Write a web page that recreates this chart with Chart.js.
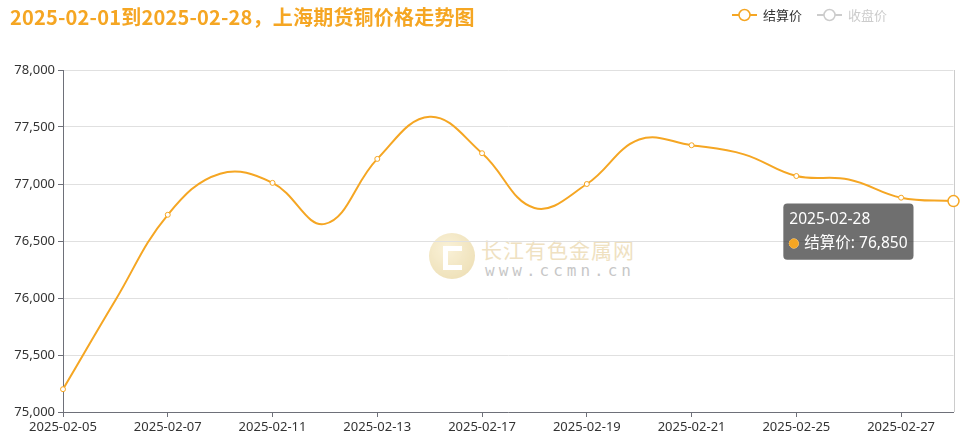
<!DOCTYPE html>
<html>
<head>
<meta charset="utf-8">
<script src="https://cdn.jsdelivr.net/npm/chart.js@4/dist/chart.umd.min.js"></script>
<style>
  body { margin: 0; background: #fff; font-family: "Noto Sans CJK SC", "Noto Sans", sans-serif; }
  #wrap { position: relative; width: 960px; height: 440px; }
  #title { position: absolute; left: 10px; top: 2px; font-size: 20px; font-weight: bold; color: #f5a623; white-space: nowrap; letter-spacing: 0.2px; }
  #legend { position: absolute; left: 732px; top: 5px; font-size: 13px; display: flex; align-items: center; }
  #legend span.item { display: flex; align-items: center; margin-right: 15px; }
  #legend svg { margin-right: 6px; }
  #mark { position: absolute; left: 429px; top: 233px; width: 220px; height: 50px; opacity: 0.55; }
  #logo { position: absolute; left: 0; top: 0; width: 46px; height: 46px; border-radius: 50%;
          background: radial-gradient(circle at 40% 35%, #f6e7b8, #dcc070); }
  #logo div { position: absolute; left: 14px; top: 13px; width: 14px; height: 14px; border: 5px solid #fff; border-right: none; }
  #mark .cn { position: absolute; left: 52px; top: 1px; font-size: 21px; color: #e3c98f; letter-spacing: 1px; white-space: nowrap; }
  #mark .url { position: absolute; left: 56px; top: 28px; font-size: 16px; color: #9a9a9a; letter-spacing: 4px; font-family: "DejaVu Sans Mono", monospace; white-space: nowrap; }
  canvas { position: absolute; left: 0; top: 0; }
</style>
</head>
<body>
<div id="wrap">
  <div id="mark"><div id="logo"><div></div></div><span class="cn">长江有色金属网</span><span class="url">www.ccmn.cn</span></div>
  <canvas id="chart" width="960" height="440"></canvas>
  <div id="title">2025-02-01到2025-02-28，上海期货铜价格走势图</div>
  <div id="legend"></div>
</div>
<script>
// 日期 / 结算价
const dates = ['2025-02-05','2025-02-06','2025-02-07','2025-02-10','2025-02-11','2025-02-12',
  '2025-02-13','2025-02-14','2025-02-17','2025-02-18','2025-02-19','2025-02-20',
  '2025-02-21','2025-02-24','2025-02-25','2025-02-26','2025-02-27','2025-02-28'];
const settlePrice = [75200, 75980, 76730, 77090, 77010, 76650,
  77220, 77590, 77270, 76790, 77000, 77390,
  77340, 77260, 77070, 77040, 76880, 76850];
const seriesNames = ['结算价', '收盘价'];
const yMin = 75000, yMax = 78000, yStep = 500;

const orange = '#f5a623';
const tickFont = { family: '"Noto Sans", "Noto Sans CJK SC", sans-serif', size: 13 };

// legend (收盘价 is switched off, like in the original)
const legendColors = [orange, '#ccc'];
const textColors = ['#333', '#ccc'];
document.getElementById('legend').innerHTML = seriesNames.map(function(n, i){
  return '<span class="item"><svg width="25" height="14"><line x1="0" y1="7" x2="25" y2="7" stroke="' + legendColors[i] +
    '" stroke-width="2"/><circle cx="12.5" cy="7" r="5.5" fill="#fff" stroke="' + legendColors[i] +
    '" stroke-width="1.5"/></svg><span style="color:' + textColors[i] + '">' + n + '</span></span>';
}).join('');

Chart.Tooltip.positioners.leftOfPoint = function(elements) {
  if (!elements.length) return false;
  const el = elements[0].element;
  return { x: el.x - 44, y: el.y + 2.5, xAlign: 'right', yAlign: 'top' };
};

const axisPointer = {
  id: 'axisPointer',
  beforeDatasetsDraw(chart) {
    const act = chart.getActiveElements();
    if (!act.length) return;
    const x = act[0].element.x, a = chart.chartArea, ctx = chart.ctx;
    ctx.save();
    ctx.strokeStyle = '#ccc';
    ctx.lineWidth = 1;
    ctx.beginPath();
    ctx.moveTo(Math.round(x) + 0.5, a.top);
    ctx.lineTo(Math.round(x) + 0.5, a.bottom);
    ctx.stroke();
    ctx.restore();
  }
};

const ctx = document.getElementById('chart').getContext('2d');
const chart = new Chart(ctx, {
  type: 'line',
  data: {
    labels: dates,
    datasets: [{
      label: seriesNames[0],
      data: settlePrice,
      borderColor: orange,
      backgroundColor: '#fff',
      borderWidth: 2,
      tension: 0.4,
      pointRadius: function(c){ return c.dataIndex % 2 === 0 ? 2.5 : 0; },
      pointBorderWidth: 1,
      pointBackgroundColor: '#fff',
      pointBorderColor: orange,
      pointHoverRadius: 5.5,
      pointHoverBorderWidth: 1.5,
      pointHoverBackgroundColor: '#fff',
      pointHoverBorderColor: orange
    }]
  },
  options: {
    responsive: false,
    animation: false,
    events: [],
    layout: { padding: { left: 0, top: 70, right: 5, bottom: 0 } },
    plugins: {
      legend: { display: false },
      title: { display: false },
      tooltip: {
        position: 'leftOfPoint',
        xAlign: 'right',
        yAlign: 'top',
        caretSize: 0,
        caretPadding: 0,
        cornerRadius: 4,
        backgroundColor: 'rgba(50,50,50,0.7)',
        padding: { left: 6, right: 6, top: 7, bottom: 7 },
        titleFont: { family: '"Noto Sans", "Noto Sans CJK SC", sans-serif', size: 15.5, weight: 'normal' },
        bodyFont: { family: '"Noto Sans", "Noto Sans CJK SC", sans-serif', size: 15.5 },
        titleMarginBottom: 5,
        usePointStyle: true,
        boxWidth: 9,
        boxHeight: 9,
        boxPadding: 4,
        callbacks: {
          labelColor: function(){ return { borderColor: orange, backgroundColor: orange }; },
          labelPointStyle: function(){ return { pointStyle: 'circle', rotation: 0 }; }
        }
      }
    },
    scales: {
      x: {
        offset: false,
        afterFit: function(s){ s.height = 28; },
        border: { color: '#6e7079', width: 1 },
        grid: {
          drawOnChartArea: false,
          drawTicks: true,
          tickLength: 5,
          tickColor: function(c){ return c.index % 2 === 0 ? '#6e7079' : 'rgba(0,0,0,0)'; }
        },
        ticks: {
          autoSkip: false,
          maxRotation: 0,
          padding: 2,
          color: '#333',
          font: tickFont,
          callback: function(v, i){ return i % 2 === 0 ? this.getLabelForValue(v) : ''; }
        }
      },
      y: {
        min: yMin,
        max: yMax,
        afterFit: function(s){ s.width = 63; },
        border: { color: '#6e7079', width: 1 },
        grid: { color: '#e0e0e0', tickLength: 5, tickColor: '#6e7079' },
        ticks: {
          stepSize: yStep,
          padding: 3,
          color: '#333',
          font: tickFont
        }
      }
    }
  },
  plugins: [axisPointer]
});

const last = [{ datasetIndex: 0, index: settlePrice.length - 1 }];
chart.setActiveElements(last);
chart.tooltip.setActiveElements(last, { x: 0, y: 0 });
chart.update();
</script>
</body>
</html>
